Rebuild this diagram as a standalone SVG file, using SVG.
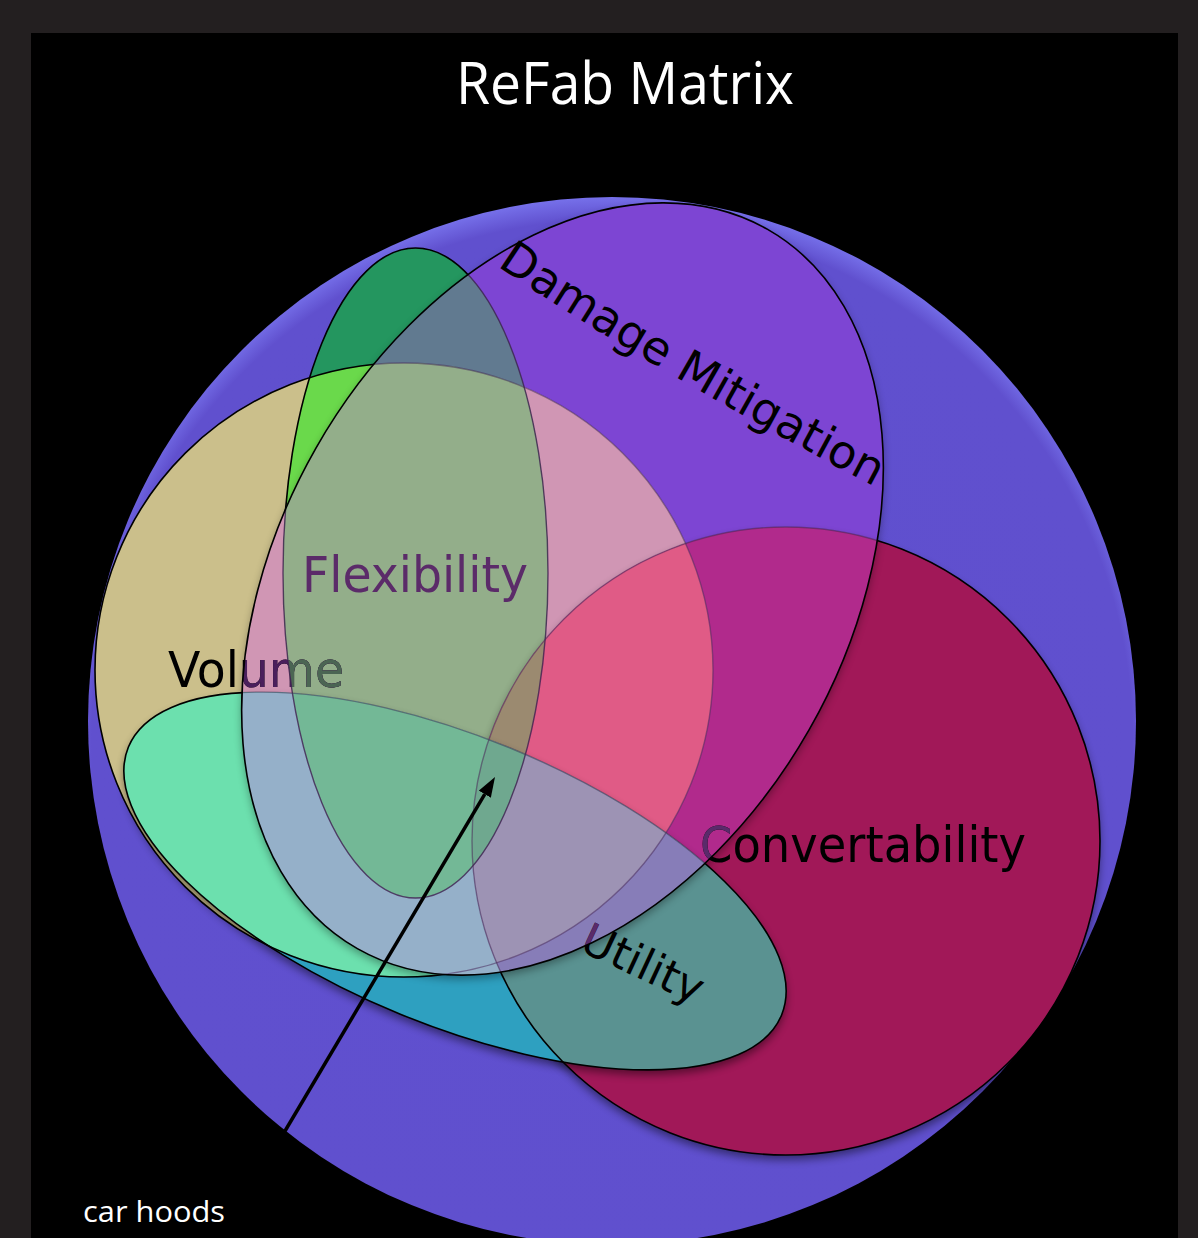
<svg xmlns="http://www.w3.org/2000/svg" xmlns:xlink="http://www.w3.org/1999/xlink" width="1198" height="1238" viewBox="0 0 1198 1238">
<style>
.lbl{font-family:"DejaVu Sans","Liberation Sans",sans-serif;font-size:50px}
.ttl{font-family:"Open Sans","Liberation Sans",sans-serif;fill:#fff}
.blk{stroke:#000;stroke-width:1.6;fill:none}
.soft{stroke-width:1.4;fill:none}
</style>
<defs>
  <circle id="eC" cx="612" cy="721" r="524"/>
  <ellipse id="eD" cx="0" cy="0" rx="414" ry="284" transform="translate(562.5,589) rotate(-60.3)"/>
  <ellipse id="eV" cx="404" cy="670" rx="309" ry="307"/>
  <ellipse id="eF" cx="415.5" cy="573" rx="132.5" ry="325"/>
  <circle id="eK" cx="786" cy="841" r="314"/>
  <ellipse id="eU" cx="0" cy="0" rx="353" ry="144" transform="translate(455,881) rotate(22.3)"/>
  <clipPath id="cD"><use href="#eD"/></clipPath>
  <clipPath id="cV"><use href="#eV"/></clipPath>
  <clipPath id="cF"><use href="#eF"/></clipPath>
  <clipPath id="cK"><use href="#eK"/></clipPath>
  <clipPath id="cU"><use href="#eU"/></clipPath>
  <mask id="mOutD" maskUnits="userSpaceOnUse" x="0" y="0" width="1198" height="1238"><rect width="1198" height="1238" fill="#fff"/><use href="#eD" fill="#000"/></mask>
  <mask id="mOutK" maskUnits="userSpaceOnUse" x="0" y="0" width="1198" height="1238"><rect width="1198" height="1238" fill="#fff"/><use href="#eK" fill="#000"/></mask>
  <mask id="mOutU" maskUnits="userSpaceOnUse" x="0" y="0" width="1198" height="1238"><rect width="1198" height="1238" fill="#fff"/><use href="#eU" fill="#000"/></mask>
  <radialGradient id="gC" gradientUnits="userSpaceOnUse" cx="612" cy="740" r="545" fx="612" fy="740">
    <stop offset="0" stop-color="#5f4fcf"/>
    <stop offset="0.955" stop-color="#6050ce"/>
    <stop offset="1" stop-color="#7873ec"/>
  </radialGradient>
  <filter id="blur" x="-10%" y="-10%" width="120%" height="120%"><feGaussianBlur stdDeviation="4"/></filter>
  <marker id="arrow" markerUnits="userSpaceOnUse" markerWidth="20" markerHeight="14" viewBox="0 0 20 14" refX="0" refY="7" orient="auto">
    <path d="M0,0 L20,7 L0,14 Z" fill="#000"/>
  </marker>
  <path id="dmPath" d="M497,266 Q645,366 879,489 L960,535"/>
  <text id="tVol" class="lbl" x="168" y="687" textLength="176" lengthAdjust="spacingAndGlyphs">Volume</text>
  <text id="tConv" class="lbl" x="700" y="862" textLength="326" lengthAdjust="spacingAndGlyphs">Convertability</text>
  <text id="tUtil" class="lbl" transform="translate(578,950) rotate(25)" style="font-size:44px">Utility</text>
</defs>

<rect width="1198" height="1238" fill="#231f20"/>
<rect x="31" y="33" width="1147" height="1205" fill="#000"/>

<g id="title"><text class="ttl" x="456" y="104" font-size="58" textLength="338" lengthAdjust="spacingAndGlyphs">ReFab Matrix</text></g>

<g id="matrix-circle"><use href="#eC" fill="url(#gC)"/></g>

<g id="damage-mitigation"><use href="#eD" fill="#7d45d3"/></g>

<g id="volume">
  <use href="#eV" fill="#cbbf8b"/>
  <g clip-path="url(#cD)"><use href="#eV" fill="#d096b4"/></g>
</g>

<g id="flexibility">
  <use href="#eF" fill="#24965f"/>
  <g clip-path="url(#cD)"><use href="#eF" fill="#617a90"/></g>
  <g clip-path="url(#cV)"><use href="#eF" fill="#6ad94b"/></g>
  <g clip-path="url(#cV)"><g clip-path="url(#cD)"><use href="#eF" fill="#93ae8a"/></g></g>
</g>

<g id="convertability">
  <g mask="url(#mOutK)"><use href="#eK" fill="#000" opacity="0.45" filter="url(#blur)" transform="translate(0,5)"/></g>
  <use href="#eK" fill="#a11858"/>
  <g clip-path="url(#cD)"><use href="#eK" fill="#b12a8c"/></g>
  <g clip-path="url(#cD)"><g clip-path="url(#cV)"><use href="#eK" fill="#e05b86"/></g></g>
  <g clip-path="url(#cF)"><use href="#eK" fill="#9b8a70"/></g>
</g>

<g id="utility">
  <g mask="url(#mOutU)"><use href="#eU" fill="#000" opacity="0.45" filter="url(#blur)" transform="translate(0,5)"/></g>
  <use href="#eU" fill="#2ea0c0"/>
  <g clip-path="url(#cV)"><use href="#eU" fill="#6ce0ae"/></g>
  <g clip-path="url(#cD)"><use href="#eU" fill="#95b0c9"/></g>
  <g clip-path="url(#cK)"><use href="#eU" fill="#5a9291"/></g>
  <g clip-path="url(#cK)"><g clip-path="url(#cD)"><use href="#eU" fill="#877db8"/></g></g>
  <g clip-path="url(#cK)"><g clip-path="url(#cD)"><g clip-path="url(#cV)"><use href="#eU" fill="#9d93b4"/></g></g></g>
  <g clip-path="url(#cF)"><use href="#eU" fill="#73b896"/></g>
  <g clip-path="url(#cF)"><g clip-path="url(#cK)"><use href="#eU" fill="#6fa88f"/></g></g>
</g>

<g id="shadow-damage" mask="url(#mOutD)"><use href="#eD" fill="#000" opacity="0.35" filter="url(#blur)" transform="translate(0,4)"/></g>

<g id="labels">
  <g id="label-volume">
    <use href="#tVol" fill="#000"/>
    <g clip-path="url(#cD)"><use href="#tVol" fill="#4a1f5c"/></g>
    <g clip-path="url(#cD)"><g clip-path="url(#cF)"><use href="#tVol" fill="#4b6553"/></g></g>
  </g>
  <g id="label-flexibility"><text class="lbl" x="302" y="592" fill="#5b2b69" textLength="226" lengthAdjust="spacingAndGlyphs">Flexibility</text></g>
  <g id="label-convertability">
    <use href="#tConv" fill="#000"/>
    <g clip-path="url(#cD)"><use href="#tConv" fill="#5a2a6a"/></g>
  </g>
  <g id="label-utility">
    <use href="#tUtil" fill="#000"/>
    <g clip-path="url(#cD)"><use href="#tUtil" fill="#5a2a6a"/></g>
  </g>
</g>

<g id="outlines">
  <use href="#eV" class="blk" mask="url(#mOutD)"/>
  <g clip-path="url(#cD)"><use href="#eV" class="soft" stroke="#4b2d5e" stroke-opacity="0.55"/></g>
  <use href="#eF" class="blk" mask="url(#mOutD)"/>
  <g clip-path="url(#cD)"><use href="#eF" class="soft" stroke="#3e1f50" stroke-opacity="0.8"/></g>
  <use href="#eK" class="blk" mask="url(#mOutD)"/>
  <g clip-path="url(#cD)"><use href="#eK" class="soft" stroke="#4a2a5a" stroke-opacity="0.55"/></g>
  <use href="#eU" class="blk" mask="url(#mOutD)"/>
  <g clip-path="url(#cD)"><use href="#eU" class="soft" stroke="#3d3550" stroke-opacity="0.55"/></g>
  <use href="#eD" class="blk"/>
</g>

<g id="label-damage-mitigation">
  <text class="lbl" style="font-size:46px" fill="#000"><textPath href="#dmPath">Damage Mitigation</textPath></text>
</g>

<g id="connectors">
  <line x1="285" y1="1131" x2="484.8" y2="794.2" stroke="#000" stroke-width="3.5" marker-end="url(#arrow)"/>
</g>

<g id="caption"><text class="ttl" x="83" y="1222" font-size="30" textLength="142" lengthAdjust="spacingAndGlyphs">car hoods</text></g>
</svg>
